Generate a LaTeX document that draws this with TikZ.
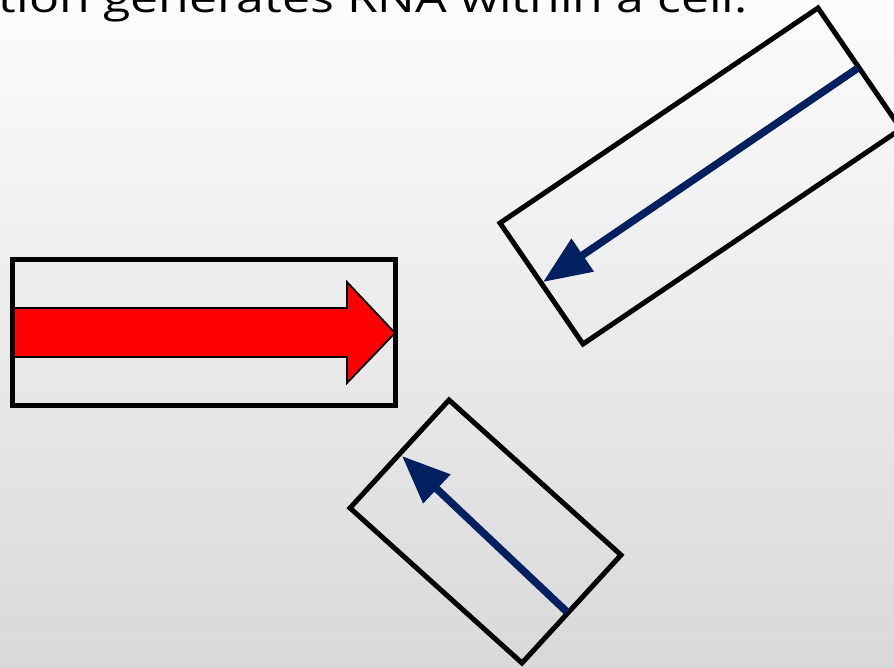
\documentclass[tikz,border=0pt]{standalone}
\usepackage{fontspec}
\setmainfont{Open Sans}
\usetikzlibrary{arrows.meta}
\definecolor{navy}{RGB}{0,32,96}

\begin{document}
\begin{tikzpicture}[x=1pt,y=-1pt,box/.style={draw,line width=5pt},dna/.style={draw,line width=1.8pt,fill=red,line join=miter},rna/.style={draw=navy,line width=7.5pt,-{Triangle[length=48pt,width=38pt]}}]
\useasboundingbox (0,0) rectangle (894,667);
\shade[top color=white!99!black,middle color=white!95!black,bottom color=black!15] (0,0) rectangle (894,667);
\node[anchor=base east,inner sep=0pt,font=\fontsize{40}{48}\selectfont] (title) at (748,12) {\scalebox{1.25}[1]{tion generates RNA within a cell.}};
% red strand in the flat box
\draw[dna] (12,308) -- (347,308) -- (347,282) -- (395,333) -- (347,383) -- (347,357) -- (12,357) -- cycle;
\draw[box] (12.5,259.5) rectangle (395.5,405.5);
% upper tilted box
\coordinate (ua) at (818,8);
\coordinate (ub) at (500,223);
\coordinate (uc) at (583,344);
\coordinate (ud) at (901,129);
\draw[box] (ua) -- (ub) -- (uc) -- (ud) -- cycle;
\coordinate (us) at (858,68);
\coordinate (ut) at (543,282);
\draw[rna] (us) -- (ut);
% lower tilted box
\coordinate (la) at (449,400);
\coordinate (lb) at (350,508);
\coordinate (lc) at (522,663);
\coordinate (ld) at (621,555);
\draw[box] (la) -- (lb) -- (lc) -- (ld) -- cycle;
\coordinate (ls) at (567,612);
\coordinate (lt) at (402,456);
\draw[rna] (ls) -- (lt);
\end{tikzpicture}
\end{document}
